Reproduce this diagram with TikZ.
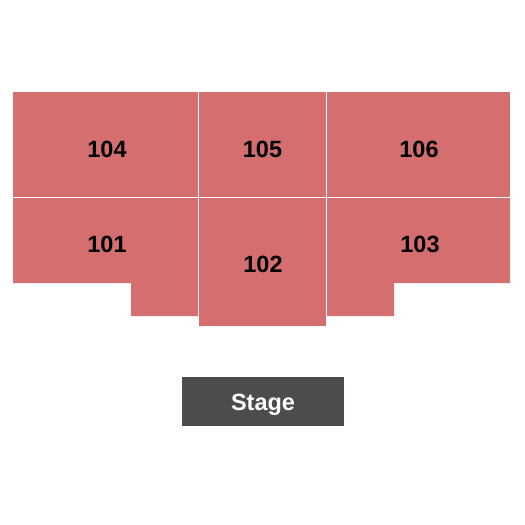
\documentclass[tikz,border=0pt]{standalone}
\usepackage{fontspec}
\setmainfont{Liberation Sans}
\definecolor{sec}{HTML}{D56E6E}
\definecolor{stagec}{HTML}{4D4B4C}
\begin{document}
\begin{tikzpicture}[x=1pt,y=-1pt,
  secfill/.style={fill=sec,draw=none},
  seclabel/.style={font=\fontsize{23.5}{23.5}\selectfont\bfseries,text=black,inner sep=0pt},
  stagelabel/.style={font=\fontsize{23.5}{23.5}\selectfont\bfseries,text=white,inner sep=0pt}]
\useasboundingbox[fill=white] (0,0) rectangle (525,525);
% top row
\fill[secfill] (13,92) rectangle (198,197);
\fill[secfill] (199,92) rectangle (326,197);
\fill[secfill] (327,92) rectangle (510,197);
% bottom row
\fill[secfill] (13,198) -- (198,198) -- (198,316) -- (131,316) -- (131,283) -- (13,283) -- cycle;
\fill[secfill] (199,198) rectangle (326,326);
\fill[secfill] (327,198) -- (510,198) -- (510,283) -- (394,283) -- (394,316) -- (327,316) -- cycle;
% stage
\fill[stagec] (182,377) rectangle (344,426);
% labels
\node[seclabel] (l104) at (107,149.5) {104};
\node[seclabel] (l105) at (262.5,149.5) {105};
\node[seclabel] (l106) at (419,149.5) {106};
\node[seclabel] (l101) at (107,244.5) {101};
\node[seclabel] (l102) at (263,264.5) {102};
\node[seclabel] (l103) at (420,244.5) {103};
\node[stagelabel,anchor=base] (stage) at (263,410.5) {Stage};
\end{tikzpicture}
\end{document}
